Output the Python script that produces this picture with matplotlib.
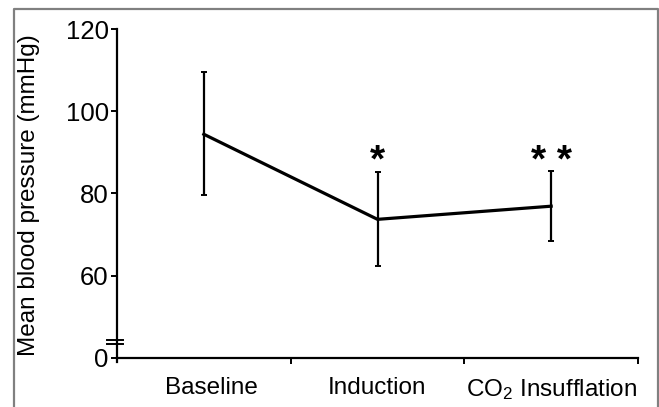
import matplotlib
matplotlib.use("Agg")
import matplotlib.pyplot as plt
import numpy as np
from matplotlib.lines import Line2D
import matplotlib.transforms as mtrans

plt.rcParams['font.family'] = ['Liberation Sans', 'DejaVu Sans']
plt.rcParams['mathtext.fontset'] = 'custom'
plt.rcParams['mathtext.rm'] = 'Liberation Sans'
plt.rcParams['mathtext.it'] = 'Liberation Sans'

# Data
categories = ["Baseline", "Induction", "CO$_2$ Insufflation"]
means = [94.4, 73.7, 76.9]
upper = [109.5, 85.2, 85.5]
lower = [79.7, 62.4, 68.4]
significance = ["", "*", "* *"]
yticks = [0, 60, 80, 100, 120]

# broken-axis scale: 0..60 compressed
def fwd(v):
    v = np.asarray(v, dtype=float)
    return np.where(v < 60, 40 + v / 3.0, v)

def inv(d):
    d = np.asarray(d, dtype=float)
    return np.where(d < 60, (d - 40) * 3.0, d)

fig = plt.figure(figsize=(6.59, 4.07), dpi=100)
ax = fig.add_axes([117/659, 1 - 362/407, (638-117)/659, (362-29)/407])
ax.set_yscale('function', functions=(fwd, inv))

x = np.arange(len(categories))
means_a = np.array(means)
yerr = np.vstack([means_a - np.array(lower), np.array(upper) - means_a])
ax.plot(x, means, color='black', lw=2.3, solid_joinstyle='miter', zorder=3)
ax.errorbar(x, means, yerr=yerr, fmt='none', ecolor='black', elinewidth=1.6,
            capsize=2.2, capthick=1.4, zorder=2)

for xi, s in zip(x, significance):
    if s:
        ax.text(xi, 85.3, s, ha='center', va='baseline', fontsize=28,
                fontweight='bold', color='black')

ax.set_xlim(-0.5, 2.5)
ax.set_ylim(-3, 120)
ax.set_yticks(yticks)
ax.set_yticklabels([str(t) for t in yticks])
ax.tick_params(axis='y', direction='out', length=4, width=1.4, pad=2,
               labelsize=18.5, colors='black')

ax.set_xticks([0.5, 1.5, 2.5])
ax.set_xticklabels([])
ax.set_xticks(x, minor=True)
ax.set_xticklabels(categories, minor=True)
ax.tick_params(axis='x', which='major', direction='out', length=4, width=1.4)
ax.tick_params(axis='x', which='minor', length=0, pad=14, labelsize=17.5)

ax.spines['top'].set_visible(False)
ax.spines['right'].set_visible(False)
ax.spines['left'].set_linewidth(1.6)
ax.spines['bottom'].set_linewidth(1.6)
ax.spines['bottom'].set_position(('data', 0))

ax.set_ylabel("Mean blood pressure (mmHg)", fontsize=17.5)
ax.yaxis.set_label_coords(-0.148, 0.5)

# axis break marks
tr = mtrans.blended_transform_factory(ax.transAxes, ax.transData)
for yb in [10, 13]:
    ax.add_line(Line2D([-10/521, 6/521], [yb, yb], transform=tr, color='black',
                       lw=1.4, clip_on=False))

# grey frame around figure (bottom cropped)
fx0, fx1, fy1 = 13.5/659, 658/659, 1 - 9/407
fig.add_artist(Line2D([fx0, fx0, fx1, fx1], [0, fy1, fy1, 0], color='#808080',
                      lw=1.6, transform=fig.transFigure))

fig.canvas.draw()
# the first label sits slightly right of its point in the original
t0 = ax.xaxis.get_minor_ticks()[0]
t0.label1.set_transform(t0.label1.get_transform()
                        + mtrans.ScaledTranslation(8/100, 0, fig.dpi_scale_trans))

fig.savefig("out.png", dpi=100)
